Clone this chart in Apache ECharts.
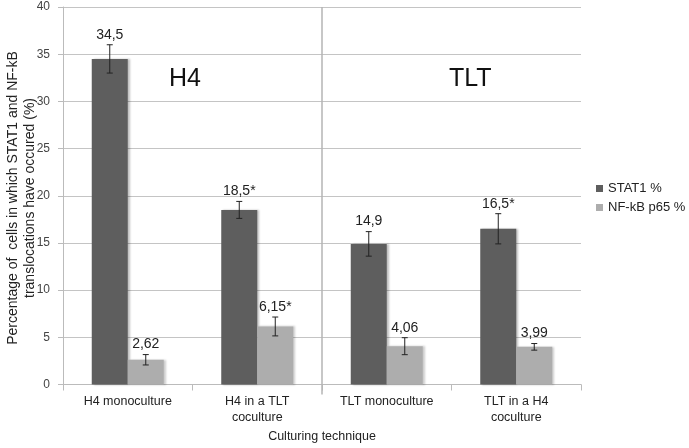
<!DOCTYPE html>
<html><head><meta charset="utf-8">
<script src="https://cdn.jsdelivr.net/npm/echarts@6/dist/echarts.min.js"></script>
<style>html,body{margin:0;padding:0;background:#fff}#c{width:689px;height:448px}</style>
</head><body><div id="c"></div>
<script>
const categories = ['H4 monoculture', 'H4 in a TLT\ncoculture', 'TLT monoculture', 'TLT in a H4\ncoculture'];
const stat1 = [34.5, 18.5, 14.9, 16.5];
const stat1Err = [1.5, 0.9, 1.3, 1.6];
const stat1Labels = ['34,5', '18,5*', '14,9', '16,5*'];
const nfkb = [2.62, 6.15, 4.06, 3.99];
const nfkbErr = [0.55, 1.0, 0.9, 0.35];
const nfkbLabels = ['2,62', '6,15*', '4,06', '3,99'];
const yTicks = [0, 5, 10, 15, 20, 25, 30, 35, 40];
const groupTitles = ['H4', 'TLT'];
const yAxisTitle = 'Percentage of  cells in which STAT1 and NF-kB\ntranslocations have occured (%)';
const separatorAfter = [1]; // vertical divider after category index 1

const FONT = 'Liberation Sans';
const BAR_W = 36;
const chart = echarts.init(document.getElementById('c'));

function errSeries(vals, errs, labels, side) {
  return {
    type: 'custom',
    z: 5,
    data: vals.map((v, i) => [i, v, errs[i]]),
    renderItem: function (params, api) {
      const i = api.value(0), v = api.value(1), e = api.value(2);
      const c = api.coord([i, v]);
      const x = c[0] + side * BAR_W / 2;
      const top = api.coord([i, v + e])[1];
      const bot = api.coord([i, v - e])[1];
      const cap = 3;
      return {
        type: 'group',
        children: [
          {type: 'line', shape: {x1: x, y1: top, x2: x, y2: bot}, style: {stroke: '#222', lineWidth: 1}},
          {type: 'line', shape: {x1: x - cap, y1: top, x2: x + cap, y2: top}, style: {stroke: '#222', lineWidth: 1}},
          {type: 'line', shape: {x1: x - cap, y1: bot, x2: x + cap, y2: bot}, style: {stroke: '#222', lineWidth: 1}},
          {type: 'text', x: x, y: top - 10, style: {text: labels[i], fill: '#222', font: '14px ' + FONT, align: 'center', verticalAlign: 'middle'}}
        ]
      };
    }
  };
}

chart.setOption({
  animation: false,
  textStyle: {fontFamily: FONT},
  grid: {left: 63, right: 108, top: 7, bottom: 63.5, containLabel: false, outerBoundsMode: 'none'},
  legend: {
    orient: 'vertical', left: 591, top: 177, itemWidth: 7, itemHeight: 7, itemGap: 6,
    icon: 'rect',
    textStyle: {fontSize: 13, color: '#222', fontFamily: FONT},
    data: ['STAT1 %', 'NF-kB p65 %']
  },
  xAxis: {
    type: 'category', data: categories,
    name: 'Culturing technique', nameLocation: 'middle', nameGap: 46,
    nameTextStyle: {fontSize: 12.5, color: '#222', fontFamily: FONT},
    axisLine: {lineStyle: {color: '#bbb'}},
    axisTick: {show: true, length: 6, lineStyle: {color: '#bbb'}},
    axisLabel: {fontSize: 12.5, color: '#222', fontFamily: FONT, lineHeight: 16, margin: 9, interval: 0},
    splitLine: {show: false}
  },
  yAxis: {
    type: 'value', min: 0, max: 40, interval: 5,
    axisLine: {show: true, lineStyle: {color: '#bbb'}},
    axisTick: {show: true, length: 5, lineStyle: {color: '#bbb'}},
    axisLabel: {fontSize: 12, color: '#444', fontFamily: FONT, margin: 13,
      formatter: v => yTicks.includes(v) ? String(v) : ''},
    splitLine: {lineStyle: {color: '#c4c4c4'}}
  },
  graphic: [
    {type: 'text', left: 169, top: 67, style: {text: groupTitles[0], font: '25px ' + FONT, fill: '#111'}},
    {type: 'text', left: 449, top: 67, style: {text: groupTitles[1], font: '25px ' + FONT, fill: '#111'}},
    {type: 'text', x: 22, y: 198, rotation: Math.PI / 2,
      style: {text: yAxisTitle, font: '14px ' + FONT, fill: '#222', align: 'center', verticalAlign: 'middle', lineHeight: 17}}
  ],
  series: [
    {name: 'STAT1 %', type: 'bar', data: stat1, barWidth: BAR_W, barGap: '0%',
      itemStyle: {color: '#5e5e5e', shadowColor: 'rgba(0,0,0,0.25)', shadowOffsetX: 2, shadowOffsetY: 0, shadowBlur: 2}},
    {name: 'NF-kB p65 %', type: 'bar', data: nfkb, barWidth: BAR_W, barGap: '0%',
      itemStyle: {color: '#adadad', shadowColor: 'rgba(0,0,0,0.2)', shadowOffsetX: 2, shadowOffsetY: 0, shadowBlur: 2}},
    errSeries(stat1, stat1Err, stat1Labels, -1),
    errSeries(nfkb, nfkbErr, nfkbLabels, 1),
    {
      type: 'custom', z: 1, silent: true,
      data: separatorAfter.map(i => [i]),
      renderItem: function (params, api) {
        const i = api.value(0);
        const w = api.size([1, 0])[0];
        const x = api.coord([i, 0])[0] + w / 2;
        const y0 = api.coord([i, 40])[1];
        const y1 = api.coord([i, 0])[1] + 10;
        return {type: 'line', shape: {x1: x, y1: y0, x2: x, y2: y1}, style: {stroke: '#b4b4b4', lineWidth: 1.5}};
      }
    }
  ]
});
</script></body></html>
